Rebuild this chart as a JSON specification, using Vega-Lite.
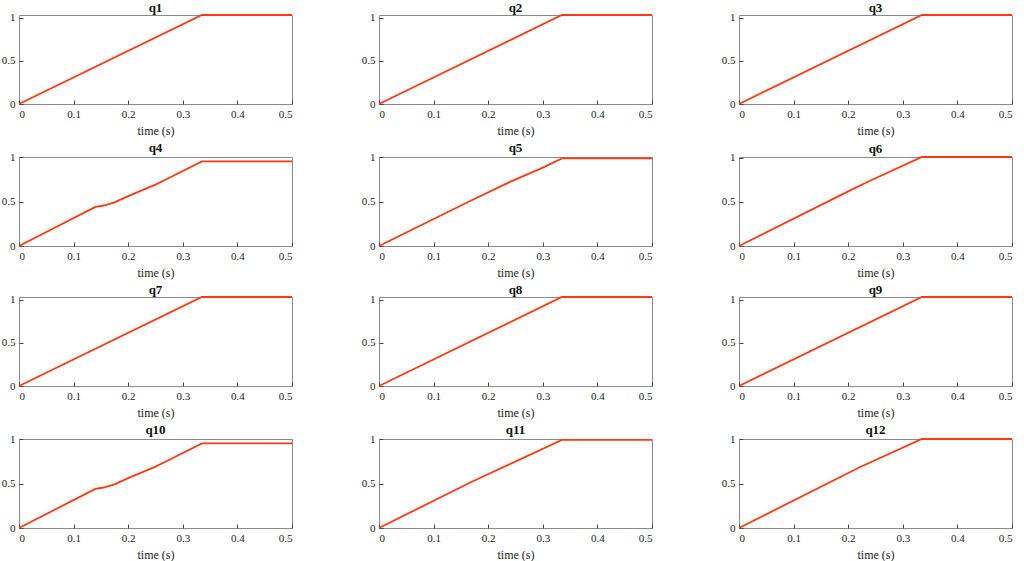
{
  "$schema": "https://vega.github.io/schema/vega-lite/v6.json",
  "background": "white",
  "padding": {"left": 0, "top": 1, "right": 0, "bottom": 0},
  "datasets": {
    "joints": [
      {"q": "q1", "t": 0, "v": 0}, {"q": "q1", "t": 0.335, "v": 1.03}, {"q": "q1", "t": 0.5, "v": 1.03},
      {"q": "q2", "t": 0, "v": 0}, {"q": "q2", "t": 0.335, "v": 1.03}, {"q": "q2", "t": 0.5, "v": 1.03},
      {"q": "q3", "t": 0, "v": 0}, {"q": "q3", "t": 0.335, "v": 1.03}, {"q": "q3", "t": 0.5, "v": 1.03},
      {"q": "q4", "t": 0, "v": 0}, {"q": "q4", "t": 0.14, "v": 0.44}, {"q": "q4", "t": 0.155, "v": 0.455},
      {"q": "q4", "t": 0.175, "v": 0.49}, {"q": "q4", "t": 0.2, "v": 0.56}, {"q": "q4", "t": 0.25, "v": 0.69},
      {"q": "q4", "t": 0.27, "v": 0.75}, {"q": "q4", "t": 0.335, "v": 0.95}, {"q": "q4", "t": 0.5, "v": 0.95},
      {"q": "q5", "t": 0, "v": 0}, {"q": "q5", "t": 0.165, "v": 0.5}, {"q": "q5", "t": 0.24, "v": 0.72},
      {"q": "q5", "t": 0.3, "v": 0.88}, {"q": "q5", "t": 0.335, "v": 0.985}, {"q": "q5", "t": 0.5, "v": 0.985},
      {"q": "q6", "t": 0, "v": 0}, {"q": "q6", "t": 0.2, "v": 0.62}, {"q": "q6", "t": 0.24, "v": 0.74},
      {"q": "q6", "t": 0.335, "v": 1.01}, {"q": "q6", "t": 0.5, "v": 1.01},
      {"q": "q7", "t": 0, "v": 0}, {"q": "q7", "t": 0.335, "v": 1.03}, {"q": "q7", "t": 0.5, "v": 1.03},
      {"q": "q8", "t": 0, "v": 0}, {"q": "q8", "t": 0.335, "v": 1.03}, {"q": "q8", "t": 0.5, "v": 1.03},
      {"q": "q9", "t": 0, "v": 0}, {"q": "q9", "t": 0.335, "v": 1.03}, {"q": "q9", "t": 0.5, "v": 1.03},
      {"q": "q10", "t": 0, "v": 0}, {"q": "q10", "t": 0.14, "v": 0.44}, {"q": "q10", "t": 0.155, "v": 0.455},
      {"q": "q10", "t": 0.175, "v": 0.49}, {"q": "q10", "t": 0.2, "v": 0.56}, {"q": "q10", "t": 0.25, "v": 0.69},
      {"q": "q10", "t": 0.27, "v": 0.75}, {"q": "q10", "t": 0.335, "v": 0.95}, {"q": "q10", "t": 0.5, "v": 0.95},
      {"q": "q11", "t": 0, "v": 0}, {"q": "q11", "t": 0.17, "v": 0.52}, {"q": "q11", "t": 0.335, "v": 0.99},
      {"q": "q11", "t": 0.5, "v": 0.99},
      {"q": "q12", "t": 0, "v": 0}, {"q": "q12", "t": 0.22, "v": 0.68}, {"q": "q12", "t": 0.335, "v": 1.0},
      {"q": "q12", "t": 0.5, "v": 1.0}
    ]
  },
  "data": {"name": "joints"},
  "columns": 3,
  "spacing": {"column": 63, "row": 4},
  "concat": [
    {"title": "q1", "transform": [{"filter": "datum.q == 'q1'"}], "mark": "line",
     "encoding": {"x": {"field": "t", "type": "quantitative", "title": "time (s)", "scale": {"domain": [0, 0.5]}},
                  "y": {"field": "v", "type": "quantitative", "title": null, "scale": {"domain": [0, 1.03]}}}},
    {"title": "q2", "transform": [{"filter": "datum.q == 'q2'"}], "mark": "line",
     "encoding": {"x": {"field": "t", "type": "quantitative", "title": "time (s)", "scale": {"domain": [0, 0.5]}},
                  "y": {"field": "v", "type": "quantitative", "title": null, "scale": {"domain": [0, 1.03]}}}},
    {"title": "q3", "transform": [{"filter": "datum.q == 'q3'"}], "mark": "line",
     "encoding": {"x": {"field": "t", "type": "quantitative", "title": "time (s)", "scale": {"domain": [0, 0.5]}},
                  "y": {"field": "v", "type": "quantitative", "title": null, "scale": {"domain": [0, 1.03]}}}},
    {"title": "q4", "transform": [{"filter": "datum.q == 'q4'"}], "mark": "line",
     "encoding": {"x": {"field": "t", "type": "quantitative", "title": "time (s)", "scale": {"domain": [0, 0.5]}},
                  "y": {"field": "v", "type": "quantitative", "title": null, "scale": {"domain": [0, 1]}}}},
    {"title": "q5", "transform": [{"filter": "datum.q == 'q5'"}], "mark": "line",
     "encoding": {"x": {"field": "t", "type": "quantitative", "title": "time (s)", "scale": {"domain": [0, 0.5]}},
                  "y": {"field": "v", "type": "quantitative", "title": null, "scale": {"domain": [0, 1]}}}},
    {"title": "q6", "transform": [{"filter": "datum.q == 'q6'"}], "mark": "line",
     "encoding": {"x": {"field": "t", "type": "quantitative", "title": "time (s)", "scale": {"domain": [0, 0.5]}},
                  "y": {"field": "v", "type": "quantitative", "title": null, "scale": {"domain": [0, 1.01]}}}},
    {"title": "q7", "transform": [{"filter": "datum.q == 'q7'"}], "mark": "line",
     "encoding": {"x": {"field": "t", "type": "quantitative", "title": "time (s)", "scale": {"domain": [0, 0.5]}},
                  "y": {"field": "v", "type": "quantitative", "title": null, "scale": {"domain": [0, 1.03]}}}},
    {"title": "q8", "transform": [{"filter": "datum.q == 'q8'"}], "mark": "line",
     "encoding": {"x": {"field": "t", "type": "quantitative", "title": "time (s)", "scale": {"domain": [0, 0.5]}},
                  "y": {"field": "v", "type": "quantitative", "title": null, "scale": {"domain": [0, 1.03]}}}},
    {"title": "q9", "transform": [{"filter": "datum.q == 'q9'"}], "mark": "line",
     "encoding": {"x": {"field": "t", "type": "quantitative", "title": "time (s)", "scale": {"domain": [0, 0.5]}},
                  "y": {"field": "v", "type": "quantitative", "title": null, "scale": {"domain": [0, 1.03]}}}},
    {"title": "q10", "transform": [{"filter": "datum.q == 'q10'"}], "mark": "line",
     "encoding": {"x": {"field": "t", "type": "quantitative", "title": "time (s)", "scale": {"domain": [0, 0.5]}},
                  "y": {"field": "v", "type": "quantitative", "title": null, "scale": {"domain": [0, 1]}}}},
    {"title": "q11", "transform": [{"filter": "datum.q == 'q11'"}], "mark": "line",
     "encoding": {"x": {"field": "t", "type": "quantitative", "title": "time (s)", "scale": {"domain": [0, 0.5]}},
                  "y": {"field": "v", "type": "quantitative", "title": null, "scale": {"domain": [0, 1]}}}},
    {"title": "q12", "transform": [{"filter": "datum.q == 'q12'"}], "mark": "line",
     "encoding": {"x": {"field": "t", "type": "quantitative", "title": "time (s)", "scale": {"domain": [0, 0.5]}},
                  "y": {"field": "v", "type": "quantitative", "title": null, "scale": {"domain": [0, 1]}}}}
  ],
  "config": {
    "view": {"continuousWidth": 273, "continuousHeight": 89, "stroke": "#8a8a8a", "strokeWidth": 1},
    "line": {"color": "#ff3a10", "strokeWidth": 1.8, "clip": true},
    "title": {"font": "Liberation Serif", "fontSize": 13, "fontWeight": "bold", "color": "#111", "offset": -4},
    "axis": {
      "grid": false, "domain": false, "tickColor": "#444", "tickSize": -4,
      "labelFont": "Liberation Serif", "labelFontSize": 11, "labelColor": "#222",
      "titleFont": "Liberation Serif", "titleFontSize": 12, "titleFontWeight": "normal", "titleColor": "#222"
    },
    "axisX": {"values": [0, 0.1, 0.2, 0.3, 0.4, 0.5], "format": ".1~f", "labelPadding": 8, "titlePadding": 6},
    "axisY": {"values": [0, 0.5, 1], "format": "~g", "labelPadding": 8}
  }
}
